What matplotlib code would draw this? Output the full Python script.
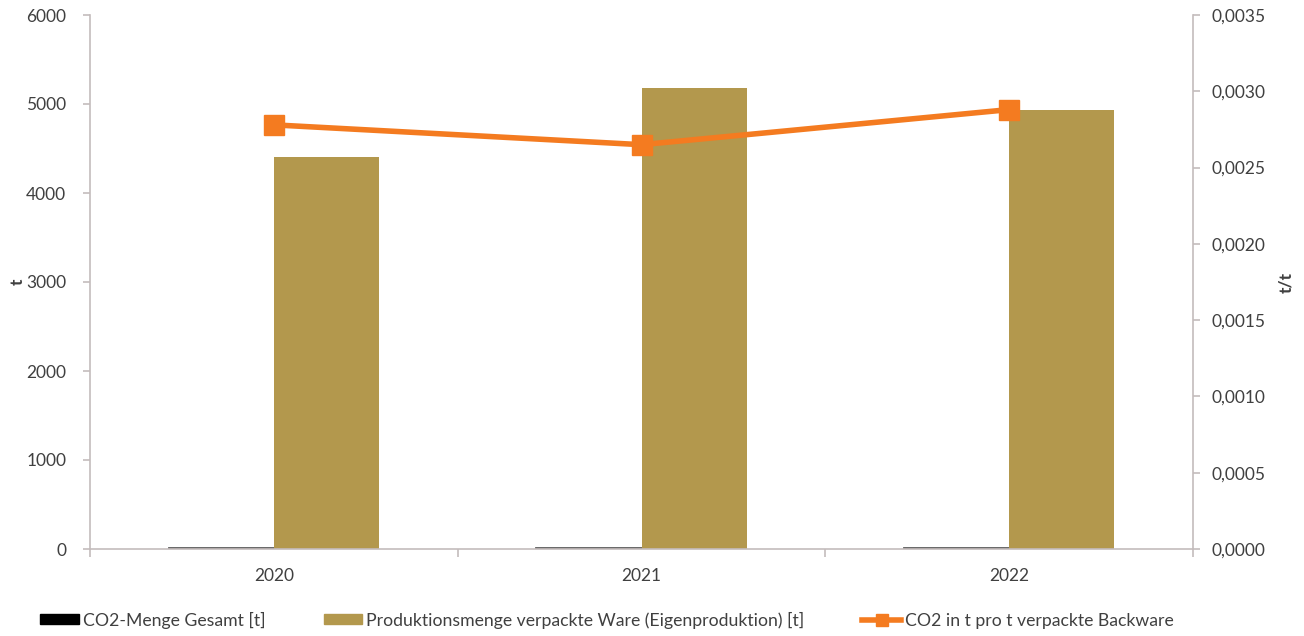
import matplotlib
matplotlib.use("Agg")
import matplotlib.pyplot as plt
import numpy as np
from matplotlib.ticker import FuncFormatter, FixedLocator
from matplotlib.patches import Patch

plt.rcParams['font.family'] = ['Lato', 'DejaVu Sans']

years = ["2020", "2021", "2022"]
co2_total = [12.3, 13.7, 14.2]
production = [4410, 5180, 4930]
co2_per_t = [0.00278, 0.00265, 0.00288]

label_co2 = "CO2-Menge Gesamt [t]"
label_prod = "Produktionsmenge verpackte Ware (Eigenproduktion) [t]"
label_ratio = "CO2 in t pro t verpackte Backware"

axis_col = "#C4BCBC"
text_col = "#404040"
gold = "#B3984D"
dark = "#5A5A5A"
orange = "#F47B20"

fig = plt.figure(figsize=(13.04, 6.36), dpi=100)
ax = fig.add_axes([90/1304, 1-549/636, (1193-90)/1304, (549-15)/636])
ax2 = ax.twinx()

x = np.arange(len(years))
w = 0.286
ax.bar(x - w/2, co2_total, w, color=dark, edgecolor=dark, linewidth=2, label=label_co2)
ax.bar(x + w/2, production, w, color=gold, label=label_prod)
ln, = ax2.plot(x, co2_per_t, color=orange, linewidth=4, marker='s', markersize=14,
               label=label_ratio)

ax.set_xlim(-0.5, 2.5)
ax.set_ylim(0, 6000)
ax2.set_ylim(0, 0.0035)
ax.set_yticks(np.arange(0, 6001, 1000))
ax2.set_yticks(np.arange(0, 0.00351, 0.0005))
ax2.yaxis.set_major_formatter(FuncFormatter(lambda v, p: f"{v:.4f}".replace('.', ',')))

fs = 12.5
ax.set_xticks(x)
ax.set_xticklabels(years)
ax.xaxis.set_minor_locator(FixedLocator([-0.5, 0.5, 1.5, 2.5]))
ax.tick_params(axis='x', which='major', length=0, pad=14, labelsize=fs, labelcolor=text_col)
ax.tick_params(axis='x', which='minor', length=6, color=axis_col, width=1.2)
ax.tick_params(axis='y', length=5, color=axis_col, width=1.2, labelsize=fs, labelcolor=text_col, pad=12)
ax2.tick_params(axis='y', length=5, color=axis_col, width=1.2, labelsize=fs, labelcolor=text_col, pad=8)

for a in (ax, ax2):
    for s in a.spines.values():
        s.set_visible(False)
ax.spines['left'].set_visible(True)
ax.spines['bottom'].set_visible(True)
ax2.spines['right'].set_visible(True)
for s in (ax.spines['left'], ax.spines['bottom'], ax2.spines['right']):
    s.set_color(axis_col)
    s.set_linewidth(1.2)

ax.set_ylabel("t", fontsize=fs, color=text_col, fontweight='bold')
ax2.set_ylabel("t/t", fontsize=fs, color=text_col, fontweight='bold')
ax.yaxis.set_label_coords(-0.058, 0.5)
ax2.yaxis.set_label_coords(1.077, 0.5)

ax.set_zorder(ax2.get_zorder() - 1)
ax2.patch.set_visible(False)

h1 = Patch(facecolor='black', edgecolor='black')
h2 = Patch(facecolor=gold, edgecolor=gold)
leg = fig.legend([h1, h2, ln], [label_co2, label_prod, label_ratio],
                 loc='center', bbox_to_anchor=(607/1304, 1-620/636), ncol=3,
                 frameon=False, fontsize=12.7, handlelength=2.2, handleheight=0.5,
                 handletextpad=0.2, columnspacing=3.3, labelcolor=text_col)
leg.legend_handles[2].set_markersize(8)

fig.savefig("out.png", dpi=100)
